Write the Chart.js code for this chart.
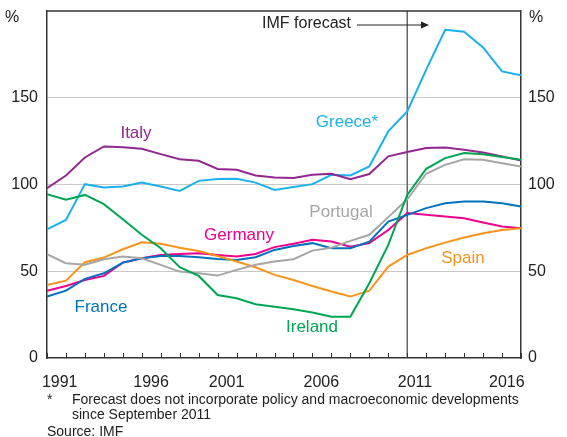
<!DOCTYPE html>
<html>
<head>
<meta charset="utf-8">
<script src="https://cdn.jsdelivr.net/npm/chart.js@4.4.1/dist/chart.umd.min.js"></script>
<style>
  body { margin: 0; background: #fff; }
  #box { position: relative; width: 567px; height: 437px; font-family: "Liberation Sans", Arial, sans-serif; color: #222; }
  #grafico { position: absolute; left: 0; top: 0; }
  .nota { position: absolute; font-size: 14px; line-height: 15px; white-space: nowrap; }
</style>
</head>
<body>
<div id="box">
  <canvas id="grafico" width="567" height="437"></canvas>
  <div class="nota" style="left:47px; top:392px;">*</div>
  <div class="nota" style="left:72px; top:392px;">Forecast does not incorporate policy and macroeconomic developments<br>since September 2011</div>
  <div class="nota" style="left:47px; top:424px;">Source: IMF</div>
</div>
<script>
const years = [1991, 1992, 1993, 1994, 1995, 1996, 1997, 1998, 1999, 2000, 2001, 2002, 2003,
  2004, 2005, 2006, 2007, 2008, 2009, 2010, 2011, 2012, 2013, 2014, 2015, 2016];

const greece = [74.2, 79.6, 100.2, 98.3, 98.8, 101.1, 98.8, 96.3, 102.1, 103.1, 103.3, 101.1, 96.9,
  98.5, 100.2, 105.6, 105.2, 110.4, 130.6, 142.1, 166.2, 189.2, 188.1, 179.0, 165.2, 162.9];
const italy = [97.9, 105.2, 115.6, 121.9, 121.5, 120.6, 117.5, 114.6, 113.7, 109.0, 108.5, 105.2, 104.0,
  103.7, 105.6, 106.2, 103.1, 106.0, 116.2, 118.7, 121.0, 121.3, 120.0, 118.5, 116.2, 113.8];
const ireland = [94.4, 91.2, 94.0, 88.7, 80.0, 71.0, 63.3, 52.3, 47.3, 36.3, 34.4, 31.0, 29.6,
  28.1, 26.2, 23.8, 23.8, 43.1, 65.2, 94.0, 109.0, 115.2, 118.1, 117.5, 115.8, 114.2];
const portugal = [59.8, 54.6, 53.7, 56.9, 58.5, 57.5, 53.7, 49.8, 48.8, 47.5, 50.8, 53.7, 55.6,
  56.9, 61.9, 63.6, 67.5, 71.0, 81.2, 91.5, 106.2, 111.3, 114.6, 114.2, 112.3, 110.4];
const germany = [38.8, 41.5, 45.0, 47.3, 55.0, 57.5, 59.4, 60.0, 60.4, 59.4, 58.5, 60.0, 63.9,
  65.8, 68.1, 67.1, 64.2, 66.2, 73.8, 83.5, 82.5, 81.5, 80.6, 78.1, 75.8, 74.8];
const france = [35.4, 38.8, 45.6, 48.8, 55.0, 57.5, 58.8, 58.8, 58.1, 57.0, 56.5, 58.1, 62.3,
  64.6, 66.2, 63.3, 63.3, 67.1, 78.6, 82.5, 86.4, 89.2, 90.2, 90.2, 89.2, 87.3];
const spain = [42.1, 44.6, 55.2, 57.9, 62.7, 66.7, 65.8, 63.6, 61.7, 58.8, 55.6, 52.3, 47.9,
  45.0, 41.5, 38.3, 35.4, 38.8, 52.7, 59.4, 63.3, 66.5, 69.4, 71.9, 73.8, 74.8];

const xTickLabels = ["1991", "1996", "2001", "2006", "2011", "2016"];
const yTicks = [0, 50, 100, 150, 200];
const forecastYear = 2010;

const series = [
  { nome: "Ireland", dados: ireland, cor: "#00a651", x: 312, y: 327 },
  { nome: "Portugal", dados: portugal, cor: "#a6a6a6", x: 341, y: 212 },
  { nome: "Spain", dados: spain, cor: "#f7941d", x: 463, y: 258 },
  { nome: "France", dados: france, cor: "#0072bc", x: 101, y: 307 },
  { nome: "Germany", dados: germany, cor: "#ec008c", x: 239, y: 235 },
  { nome: "Italy", dados: italy, cor: "#92278f", x: 136, y: 133 },
  { nome: "Greece*", dados: greece, cor: "#1cb1ec", x: 347, y: 122 }
];

// label spots on the x axis, in year units (as placed in the original)
const xLabelAt = [1991.67, 1996.49, 2000.47, 2005.47, 2010.41, 2015.25];

const moldura = {
  id: "moldura",
  beforeDatasetsDraw(chart) {
    const ctx = chart.ctx;
    const area = chart.chartArea;
    const x = chart.scales.x.getPixelForValue(forecastYear);
    ctx.save();
    ctx.strokeStyle = "#666";
    ctx.lineWidth = 1.5;
    ctx.beginPath();
    ctx.moveTo(x, area.top);
    ctx.lineTo(x, area.bottom);
    ctx.stroke();
    ctx.restore();
  },
  afterDraw(chart) {
    const ctx = chart.ctx;
    const area = chart.chartArea;
    const sx = chart.scales.x;
    ctx.save();

    ctx.strokeStyle = "#333";
    ctx.lineWidth = 1.5;
    ctx.beginPath();
    ctx.moveTo(area.left, area.top);
    ctx.lineTo(area.right, area.top);
    ctx.stroke();

    ctx.lineWidth = 1;
    ctx.beginPath();
    years.forEach(ano => {
      const px = Math.round(sx.getPixelForValue(ano)) + 0.5;
      ctx.moveTo(px, area.bottom);
      ctx.lineTo(px, area.bottom - 5);
    });
    ctx.stroke();

    ctx.font = "16px 'Liberation Sans', Arial, sans-serif";
    ctx.fillStyle = "#222";
    ctx.textBaseline = "middle";
    ctx.textAlign = "center";
    ctx.fillText("%", 12, 18);
    ctx.fillText("%", 536, 18);

    ctx.textAlign = "right";
    ctx.fillText("IMF forecast", 351, 24);
    ctx.strokeStyle = "#222";
    ctx.lineWidth = 1;
    ctx.beginPath();
    ctx.moveTo(357, 25);
    ctx.lineTo(424, 25);
    ctx.stroke();
    ctx.beginPath();
    ctx.moveTo(429, 25);
    ctx.lineTo(421, 21.5);
    ctx.lineTo(421, 28.5);
    ctx.closePath();
    ctx.fill();

    ctx.font = "17px 'Liberation Sans', Arial, sans-serif";
    ctx.textAlign = "center";
    series.forEach(s => {
      ctx.fillStyle = s.cor;
      ctx.fillText(s.nome, s.x, s.y);
    });
    ctx.restore();
  }
};

function fixarLargura(largura) {
  return scale => {
    scale.width = largura;
    scale.paddingTop = 0;
    scale.paddingBottom = 0;
  };
}

function criarGrafico() {
  const canvas = document.getElementById("grafico");
  const fonte = { family: "'Liberation Sans', Arial, sans-serif", size: 16 };

  new Chart(canvas, {
    type: "line",
    data: {
      datasets: series.map(s => ({
        label: s.nome,
        data: years.map((ano, i) => ({ x: ano, y: s.dados[i] })),
        borderColor: s.cor,
        borderWidth: 2,
        pointRadius: 0,
        tension: 0,
        fill: false
      }))
    },
    options: {
      responsive: false,
      animation: false,
      layout: { padding: { top: 11, left: 0, right: 0, bottom: 0 } },
      plugins: { legend: { display: false }, tooltip: { enabled: false } },
      scales: {
        x: {
          type: "linear",
          min: years[0],
          max: years[years.length - 1],
          afterFit(scale) {
            scale.height = 79;
            scale.paddingLeft = 0;
            scale.paddingRight = 0;
          },
          afterBuildTicks(scale) { scale.ticks = xLabelAt.map(v => ({ value: v })); },
          grid: { display: false },
          border: { display: true, color: "#333", width: 1.5 },
          ticks: {
            autoSkip: false,
            maxRotation: 0,
            padding: 7,
            color: "#222",
            font: fonte,
            callback: (v, i) => xTickLabels[i]
          }
        },
        y: {
          position: "left",
          min: yTicks[0],
          max: yTicks[yTicks.length - 1],
          afterFit: fixarLargura(47),
          afterBuildTicks(scale) { scale.ticks = yTicks.map(v => ({ value: v })); },
          grid: {
            drawTicks: false,
            color: c => (c.tick.value === 0 || c.tick.value === 200) ? "rgba(0,0,0,0)" : "#c8c8c8",
            lineWidth: 1
          },
          border: { display: true, color: "#333", width: 1.5 },
          ticks: {
            padding: 9,
            color: "#222",
            font: fonte,
            callback: v => v === 200 ? "" : v
          }
        },
        y2: {
          position: "right",
          display: true,
          min: yTicks[0],
          max: yTicks[yTicks.length - 1],
          afterFit: fixarLargura(46),
          afterBuildTicks(scale) { scale.ticks = yTicks.map(v => ({ value: v })); },
          grid: { display: false, drawTicks: false },
          border: { display: true, color: "#333", width: 1.5 },
          ticks: {
            padding: 7,
            color: "#222",
            font: fonte,
            callback: v => v === 200 ? "" : v
          }
        }
      }
    },
    plugins: [moldura]
  });
}

criarGrafico();
</script>
</body>
</html>
